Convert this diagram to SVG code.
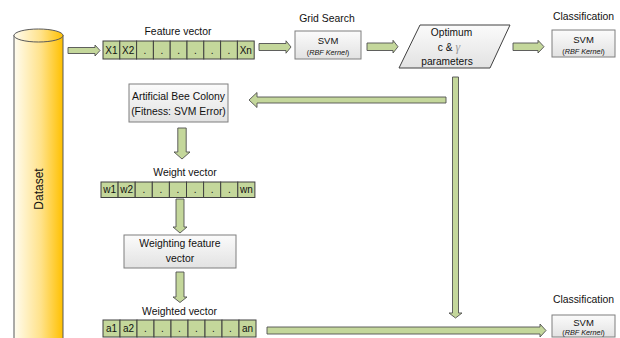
<svg xmlns="http://www.w3.org/2000/svg" width="620" height="338" viewBox="0 0 620 338">
<defs>
<linearGradient id="cyl" x1="0" y1="0" x2="1" y2="0">
<stop offset="0" stop-color="#fffcf0"/>
<stop offset="0.55" stop-color="#ffe28a"/>
<stop offset="1" stop-color="#ffc000"/>
</linearGradient>
<linearGradient id="box" x1="0" y1="0" x2="0" y2="1">
<stop offset="0" stop-color="#fbfbfb"/>
<stop offset="1" stop-color="#e2e2e2"/>
</linearGradient>
<style>
text{font-family:"Liberation Sans",Arial,sans-serif;fill:#111111}
.lbl{font-size:10.4px;text-anchor:middle}
.cell{fill:#c4d79b;stroke:#404040;stroke-width:1}
.ct{font-size:10px;text-anchor:middle}
.bx{fill:url(#box);stroke:#7f7f7f;stroke-width:1}
.svm{font-size:9.5px;text-anchor:middle}
.rbf{font-size:7.3px;text-anchor:middle}
.arr{fill:#c4d79b;stroke:#505050;stroke-width:0.9;stroke-linejoin:miter}
</style>
</defs>
<rect width="620" height="338" fill="#ffffff"/>

<g id="dataset">
<rect x="14" y="35.5" width="49" height="312" fill="url(#cyl)" stroke="#595959" stroke-width="1"/>
<ellipse cx="38.5" cy="35.5" rx="24.5" ry="6.5" fill="url(#cyl)" stroke="#595959" stroke-width="1"/>
<text transform="translate(43,189) rotate(-90)" style="font-size:12px;text-anchor:middle">Dataset</text>
</g>

<g id="feature-vector">
<text class="lbl" x="178" y="35">Feature vector</text>
<rect class="cell" x="103" y="41" width="16.8" height="18"/>
<rect class="cell" x="119.8" y="41" width="16.8" height="18"/>
<rect class="cell" x="136.6" y="41" width="16.8" height="18"/>
<rect class="cell" x="153.4" y="41" width="16.8" height="18"/>
<rect class="cell" x="170.2" y="41" width="16.8" height="18"/>
<rect class="cell" x="187" y="41" width="16.8" height="18"/>
<rect class="cell" x="203.8" y="41" width="16.8" height="18"/>
<rect class="cell" x="220.6" y="41" width="16.8" height="18"/>
<rect class="cell" x="237.4" y="41" width="16.8" height="18"/>
<text class="ct" x="111.4" y="53.5">X1</text>
<text class="ct" x="128.2" y="53.5">X2</text>
<text class="ct" x="145" y="53.5">.</text>
<text class="ct" x="161.8" y="53.5">.</text>
<text class="ct" x="178.6" y="53.5">.</text>
<text class="ct" x="195.4" y="53.5">.</text>
<text class="ct" x="212.2" y="53.5">.</text>
<text class="ct" x="229" y="53.5">.</text>
<text class="ct" x="245.8" y="53.5">Xn</text>
</g>

<g id="grid-search-svm">
<text class="lbl" x="327" y="22">Grid Search</text>
<rect class="bx" x="295" y="31" width="66" height="28"/>
<text class="svm" x="328" y="43.5">SVM</text>
<text class="rbf" x="328" y="55">(<tspan font-style="italic">RBF Kernel</tspan>)</text>
</g>

<g id="optimum-parameters">
<polygon points="420,25 510,25 490,68 399,68" fill="url(#box)" stroke="#404040" stroke-width="1"/>
<text class="lbl" x="451.5" y="35.5" style="font-size:10.2px">Optimum</text>
<text x="449" y="50.5" style="font-size:10.2px;text-anchor:middle">c &amp; <tspan font-family="'Liberation Serif',serif" font-style="italic" fill="#9a9a9a" font-size="12px">γ</tspan></text>
<text class="lbl" x="447" y="64.5" style="font-size:10.2px">parameters</text>
</g>

<g id="classification-svm-top">
<text class="lbl" x="583.5" y="19.5">Classification</text>
<rect class="bx" x="552" y="30" width="63" height="27"/>
<text class="svm" x="583.5" y="43">SVM</text>
<text class="rbf" x="583.5" y="54">(<tspan font-style="italic">RBF Kernel</tspan>)</text>
</g>

<g id="abc">
<rect class="bx" x="129" y="84" width="99" height="38"/>
<text class="lbl" x="178.5" y="100">Artificial Bee Colony</text>
<text class="lbl" x="178.5" y="115">(Fitness: SVM Error)</text>
</g>

<g id="weight-vector">
<text class="lbl" x="185" y="176">Weight vector</text>
<rect class="cell" x="101" y="182" width="17.1" height="15.5"/>
<rect class="cell" x="118.1" y="182" width="17.1" height="15.5"/>
<rect class="cell" x="135.2" y="182" width="17.1" height="15.5"/>
<rect class="cell" x="152.3" y="182" width="17.1" height="15.5"/>
<rect class="cell" x="169.4" y="182" width="17.1" height="15.5"/>
<rect class="cell" x="186.5" y="182" width="17.1" height="15.5"/>
<rect class="cell" x="203.6" y="182" width="17.1" height="15.5"/>
<rect class="cell" x="220.7" y="182" width="17.1" height="15.5"/>
<rect class="cell" x="237.8" y="182" width="17.1" height="15.5"/>
<text class="ct" x="109.6" y="193.3">w1</text>
<text class="ct" x="126.7" y="193.3">w2</text>
<text class="ct" x="143.8" y="193.3">.</text>
<text class="ct" x="160.9" y="193.3">.</text>
<text class="ct" x="178" y="193.3">.</text>
<text class="ct" x="195.1" y="193.3">.</text>
<text class="ct" x="212.2" y="193.3">.</text>
<text class="ct" x="229.3" y="193.3">.</text>
<text class="ct" x="246.4" y="193.3">wn</text>
</g>

<g id="weighting">
<rect class="bx" x="124" y="235" width="112" height="33"/>
<text class="lbl" x="180" y="247">Weighting feature</text>
<text class="lbl" x="180" y="262">vector</text>
</g>

<g id="weighted-vector">
<text class="lbl" x="179.5" y="315">Weighted vector</text>
<rect class="cell" x="103" y="320" width="17" height="17"/>
<rect class="cell" x="120" y="320" width="17" height="17"/>
<rect class="cell" x="137" y="320" width="17" height="17"/>
<rect class="cell" x="154" y="320" width="17" height="17"/>
<rect class="cell" x="171" y="320" width="17" height="17"/>
<rect class="cell" x="188" y="320" width="17" height="17"/>
<rect class="cell" x="205" y="320" width="17" height="17"/>
<rect class="cell" x="222" y="320" width="17" height="17"/>
<rect class="cell" x="239" y="320" width="17" height="17"/>
<text class="ct" x="111.5" y="332">a1</text>
<text class="ct" x="128.5" y="332">a2</text>
<text class="ct" x="145.5" y="332">.</text>
<text class="ct" x="162.5" y="332">.</text>
<text class="ct" x="179.5" y="332">.</text>
<text class="ct" x="196.5" y="332">.</text>
<text class="ct" x="213.5" y="332">.</text>
<text class="ct" x="230.5" y="332">.</text>
<text class="ct" x="247.5" y="332">an</text>
</g>

<g id="classification-svm-bottom">
<text class="lbl" x="583.5" y="302.5">Classification</text>
<rect class="bx" x="552" y="315" width="63" height="22"/>
<text class="svm" x="583.5" y="325.5">SVM</text>
<text class="rbf" x="583.5" y="334.5">(<tspan font-style="italic">RBF Kernel</tspan>)</text>
</g>

<g id="connectors">
<polygon class="arr" points="68,47.5 95,47.5 95,45 100,50.5 95,56 95,53.5 68,53.5"/>
<polygon class="arr" points="259,43.5 286,43.5 286,40.8 291,47 286,53.2 286,50.5 259,50.5"/>
<polygon class="arr" points="367,43 393,43 393,40.3 398,46.7 393,53 393,50.5 367,50.5"/>
<polygon class="arr" points="513,43 538,43 538,40.3 544,46.7 538,53 538,50.5 513,50.5"/>
<polygon class="arr" points="446,97 257,97 257,92.5 249,100 257,107.5 257,103 446,103"/>
<polygon class="arr" points="452.5,77 458.5,77 458.5,313 462,313 455.5,318 449,313 452.5,313"/>
<polygon class="arr" points="177.8,128 186.2,128 186.2,152 190,152 182,159 174,152 177.8,152"/>
<polygon class="arr" points="176,199 184,199 184,227 187,227 180,233 173,227 176,227"/>
<polygon class="arr" points="176,272 184,272 184,297 187,297 180,302.5 173,297 176,297"/>
<polygon class="arr" points="267,327 540,327 540,324 546,330.5 540,337 540,334 267,334"/>
</g>
</svg>
